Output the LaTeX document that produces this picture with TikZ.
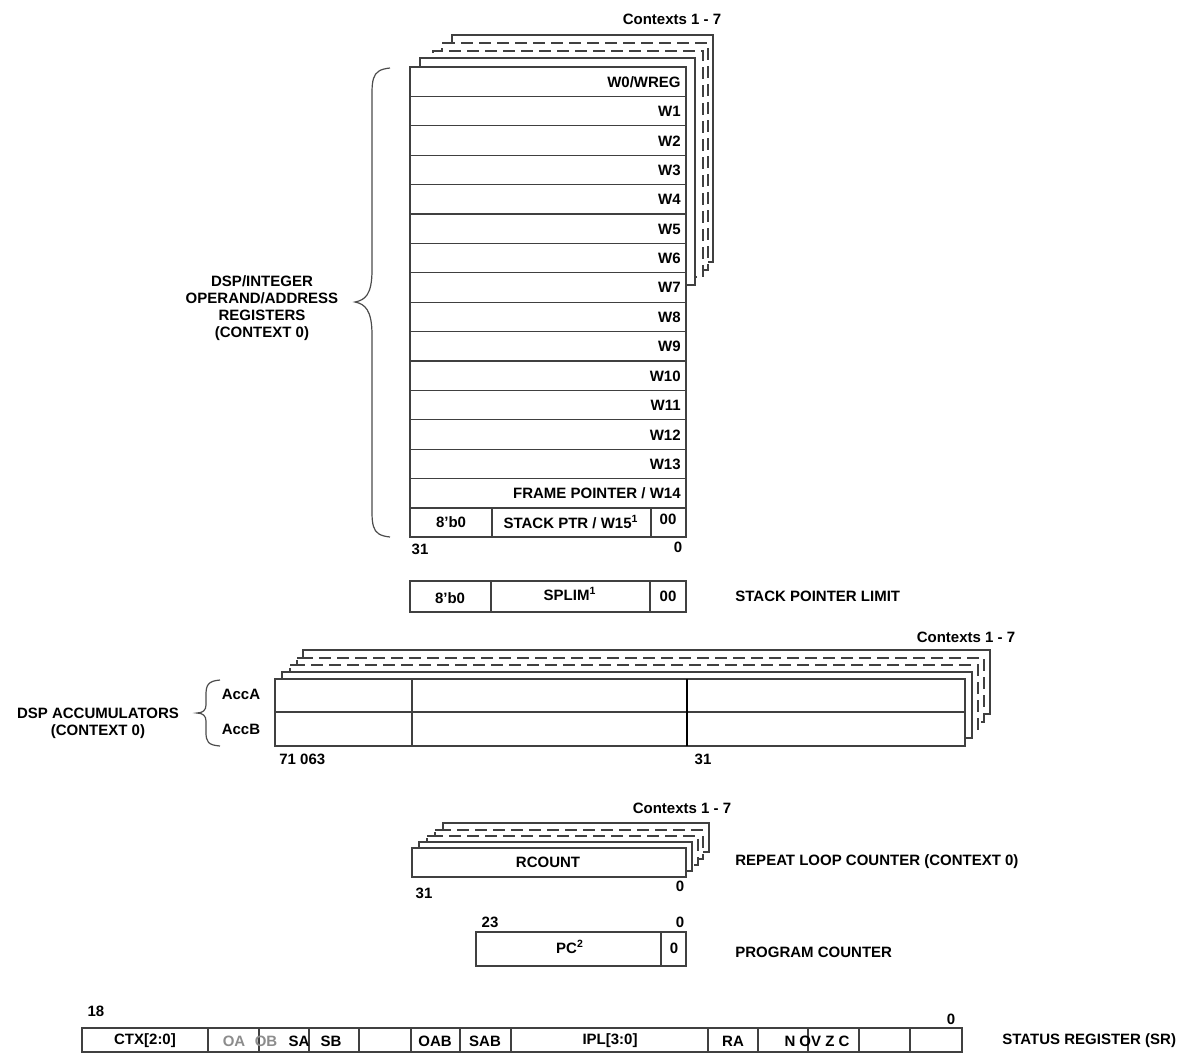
\documentclass[tikz,border=0pt]{standalone}
\usepackage{fontspec}
\setmainfont{Liberation Sans}
\begin{document}
\begin{tikzpicture}[x=0.5pt,y=-0.5pt,
  lbl/.style={font=\fontsize{7.5}{8.5}\selectfont\bfseries, inner sep=0pt},
  reg/.style={draw=black!75, line width=0.6pt},
  lay/.style={draw=black!75, line width=0.6pt},
  dlay/.style={draw=black!75, line width=0.6pt, dash pattern=on 6pt off 3pt}]
\useasboundingbox (0,0) rectangle (1198,1056);
% ---- W register context layers
\draw[lay]  (411,67) -- (420,67) -- (420,58) -- (695,58) -- (695,285) -- (686,285);
\draw[dlay] (420,58) -- (433,58) -- (433,51) -- (703,51) -- (703,277) -- (695,277);
\draw[dlay] (433,51) -- (442,51) -- (442,43) -- (708,43) -- (708,270) -- (703,270);
\draw[lay]  (442,43) -- (452,43) -- (452,35) -- (713,35) -- (713,262) -- (708,262);
\node[lbl] (ctx1) at (672,19) {Contexts 1 - 7};
% W rows
\foreach \i/\t in {0/{W0/WREG},1/W1,2/W2,3/W3,4/W4,5/W5,6/W6,7/W7,8/W8,9/W9,10/W10,11/W11,12/W12,13/W13,14/{FRAME POINTER / W14}}{
  \draw[reg,fill=white] (410,{67+29.4*\i}) rectangle (686,{67+29.4*(\i+1)});
  \node[lbl,anchor=east] (w\i) at (681,{67+29.4*\i+15}) {\t};
}
\draw[reg] (410,508) rectangle (686,537);
\draw[reg] (492,508) -- (492,537) (651,508) -- (651,537);
\node[lbl] (w15a) at (451,522) {8'b0};
\node[lbl] (w15) at (571,522) {STACK PTR / W15\textsuperscript{1}};
\node[lbl] (w15c) at (668,519) {00};
\node[lbl] (b31) at (420,549) {31};
\node[lbl] (b0) at (678,547) {0};
% brace
\draw[black!70, line width=0.6pt] (390,68) .. controls (370,70) and (372,80) .. (372,110) -- (372,270) .. controls (372,295) and (365,300) .. (355,302)
  .. controls (365,304) and (372,310) .. (372,335) -- (372,495) .. controls (372,525) and (370,535) .. (390,537);
\node[lbl,align=center] (dspint) at (262,308) {DSP/INTEGER\\OPERAND/ADDRESS\\REGISTERS\\(CONTEXT 0)};
% SPLIM
\draw[reg] (410,581) rectangle (686,612);
\draw[reg] (491,581) -- (491,612) (650,581) -- (650,612);
\node[lbl] (sp1) at (450,598) {8'b0};
\node[lbl] (sp2) at (570,594) {SPLIM\textsuperscript{1}};
\node[lbl] (sp3) at (668,596) {00};
\node[lbl,anchor=west] (spl) at (735,596) {STACK POINTER LIMIT};
% ---- accumulators
\draw[lay]  (275,679) -- (282,679) -- (282,672) -- (972,672) -- (972,738) -- (965,738);
\draw[dlay] (282,672) -- (290,672) -- (290,665) -- (978,665) -- (978,730) -- (972,730);
\draw[dlay] (290,665) -- (297,665) -- (297,658) -- (984,658) -- (984,722) -- (978,722);
\draw[lay]  (297,658) -- (303,658) -- (303,650) -- (990,650) -- (990,714) -- (984,714);
\node[lbl] (ctx2) at (966,637) {Contexts 1 - 7};
\draw[reg,fill=white] (275,679) rectangle (965,746);
\draw[reg] (275,712) -- (965,712) (412,679) -- (412,746);
\draw[black, line width=1pt] (687,679) -- (687,746);
\node[lbl] (acca) at (241,694) {AccA};
\node[lbl] (accb) at (241,729) {AccB};
\draw[black!70, line width=0.6pt] (220,680) .. controls (208,681) and (206,685) .. (206,695) -- (206,705) .. controls (206,710) and (203,713) .. (197,713)
  .. controls (203,713) and (206,716) .. (206,721) -- (206,732) .. controls (206,742) and (208,745) .. (220,746);
\node[lbl,align=center] (dspacc) at (98,723) {DSP ACCUMULATORS\\(CONTEXT 0)};
\node[lbl,anchor=west] (a71) at (279,759) {71 063};
\node[lbl] (a31) at (703,759) {31};
% ---- RCOUNT
\draw[lay]  (412,848) -- (419,848) -- (419,842) -- (692,842) -- (692,871) -- (686,871);
\draw[dlay] (419,842) -- (427,842) -- (427,836) -- (698,836) -- (698,865) -- (692,865);
\draw[dlay] (427,836) -- (435,836) -- (435,830) -- (703,830) -- (703,859) -- (698,859);
\draw[lay]  (435,830) -- (443,830) -- (443,823) -- (709,823) -- (709,852) -- (703,852);
\node[lbl] (ctx3) at (682,808) {Contexts 1 - 7};
\draw[reg,fill=white] (412,848) rectangle (686,877);
\node[lbl] (rc) at (548,862) {RCOUNT};
\node[lbl] (r31) at (424,893) {31};
\node[lbl] (r0) at (680,886) {0};
\node[lbl,anchor=west] (rlc) at (735,862) {REPEAT LOOP COUNTER (CONTEXT 0)};
% ---- PC
\node[lbl] (p23) at (490,922) {23};
\node[lbl] (p0) at (680,922) {0};
\draw[reg] (476,932) rectangle (686,966);
\draw[reg] (661,932) -- (661,966);
\node[lbl] (pc) at (570,947) {PC\textsuperscript{2}};
\node[lbl] (pcz) at (674,948) {0};
\node[lbl,anchor=west] (pcl) at (735,952) {PROGRAM COUNTER};
% ---- status register
\node[lbl] (s18) at (96,1011) {18};
\node[lbl] (s0) at (951,1019) {0};
\draw[reg] (82,1028) rectangle (962,1052);
\foreach \x in {208,259,309,359,411,460,511,708,758,808,859,910}{\draw[reg] (\x,1028) -- (\x,1052);}
\node[lbl] (ctx) at (145,1041) {CTX[2:0]};
\node[lbl,text=black!45] (oa) at (234,1041) {OA};
\node[lbl,text=black!45] (ob) at (266,1041) {OB};
\node[lbl] (sa) at (299,1041) {SA};
\node[lbl] (sb) at (331,1041) {SB};
\node[lbl] (oab) at (435,1041) {OAB};
\node[lbl] (sab) at (485,1041) {SAB};
\node[lbl] (ipl) at (610,1041) {IPL[3:0]};
\node[lbl] (ra) at (733,1041) {RA};
\node[lbl] (nz) at (817,1041) {N OV Z C};
\node[lbl,anchor=west] (srl) at (1002,1041) {STATUS REGISTER (SR)};
\end{tikzpicture}
\end{document}
